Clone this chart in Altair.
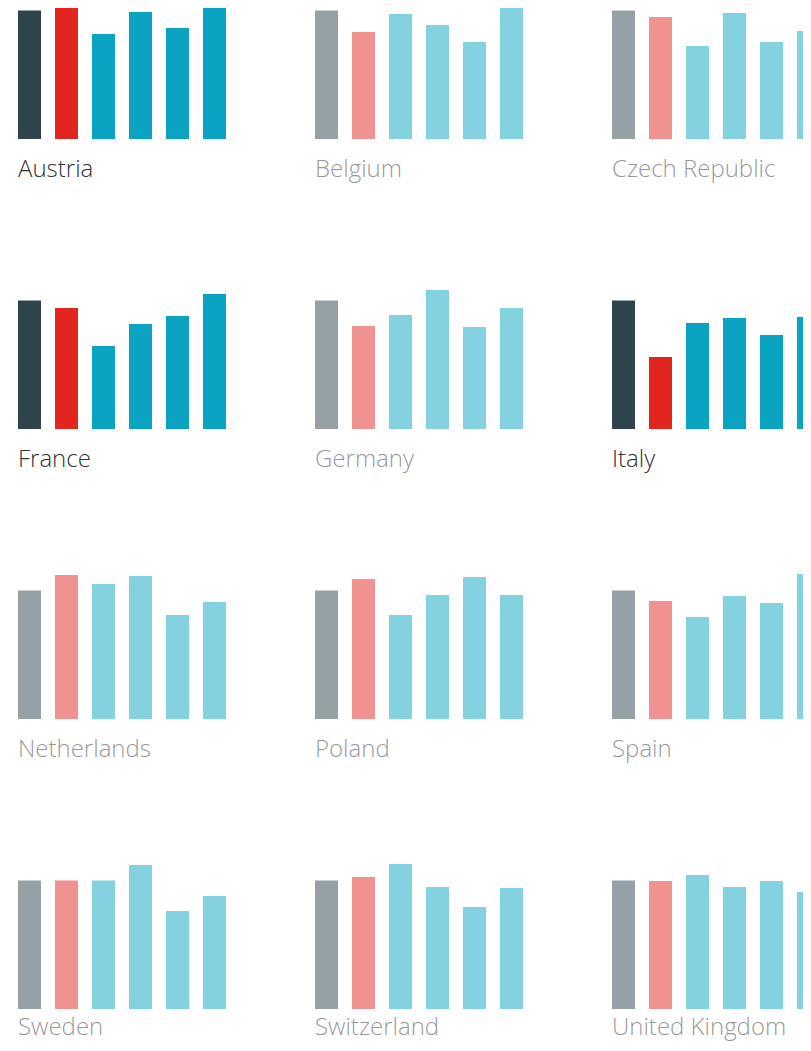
import altair as alt
import pandas as pd

countries = ["Austria", "Belgium", "Czech Republic", "France", "Germany", "Italy",
             "Netherlands", "Poland", "Spain", "Sweden", "Switzerland", "United Kingdom"]
highlighted = ["Austria", "France", "Italy"]
series = ["s1", "s2", "s3", "s4", "s5", "s6"]
roles = ["base", "country", "other", "other", "other", "other"]

austria = [100, 104.3, 81.7, 98.8, 86.4, 101.9]
belgium = [100, 83.3, 97.3, 88.7, 75.5, 105.8]
czech = [100, 94.9, 72.4, 98.1, 75.5, 84.0]
france = [100, 94.2, 64.6, 81.7, 87.9, 105.1]
germany = [100, 80.2, 88.7, 108.2, 79.4, 94.2]
italy = [100, 56.0, 82.5, 86.4, 73.2, 87.2]
netherlands = [100, 112.1, 105.1, 111.3, 80.9, 91.1]
poland = [100, 109.0, 80.9, 96.5, 110.5, 96.5]
spain = [100, 91.8, 79.4, 95.7, 90.3, 112.8]
sweden = [100, 100, 100, 112.1, 76.3, 87.9]
switzerland = [100, 102.7, 112.8, 94.9, 79.4, 94.2]
uk = [100, 99.6, 104.3, 94.9, 99.6, 91.1]

all_values = [austria, belgium, czech, france, germany, italy,
              netherlands, poland, spain, sweden, switzerland, uk]

rows = []
for name, vals in zip(countries, all_values):
    for i, (s, v) in enumerate(zip(series, vals)):
        rows.append({"country": name, "series": s, "value": v, "role": roles[i],
                     "hl": "on" if name in highlighted else "off", "first": i == 0})
df = pd.DataFrame(rows)

STEP = 37
PW = 6 * STEP - 14 + 20
PH = 131
ymax = PH / 1.285

opacity = alt.Opacity("hl:N", scale=alt.Scale(domain=["on", "off"], range=[1, 0.5]), legend=None)


def panel(name, label_gap):
    base = alt.Chart(df).transform_filter(alt.datum.country == name)
    bars = base.mark_bar().encode(
        x=alt.X("series:N", sort=series, axis=None,
                scale=alt.Scale(paddingInner=14 / STEP, paddingOuter=10 / STEP)),
        y=alt.Y("value:Q", axis=None, scale=alt.Scale(domain=[0, ymax], nice=False, zero=True)),
        color=alt.Color("role:N",
                        scale=alt.Scale(domain=["base", "country", "other"],
                                        range=["#2e434c", "#e2261f", "#0aa3c2"]),
                        legend=None),
        opacity=opacity,
    )
    labels = base.transform_filter("datum.first").mark_text(
        align="left", baseline="alphabetic", font="Open Sans", fontWeight=300,
        fontSize=24, color="#333333"
    ).encode(
        x=alt.value(10),
        y=alt.value(PH + label_gap),
        text="country:N",
        opacity=opacity,
    )
    return alt.layer(bars, labels).properties(width=PW, height=PH)


panels = [panel(c, 38 if k < 9 else 26) for k, c in enumerate(countries)]

chart = alt.concat(
    *panels,
    columns=3,
    spacing={"row": 290 - PH, "column": 297 - PW},
    bounds="flush",
).configure_view(stroke=None).properties(
    autosize=alt.AutoSizeParams(type="none"),
    padding={"left": 0, "top": 0, "right": 795, "bottom": 1035},
)

chart.save("out.html", embed_options={"renderer": "svg", "actions": False})
